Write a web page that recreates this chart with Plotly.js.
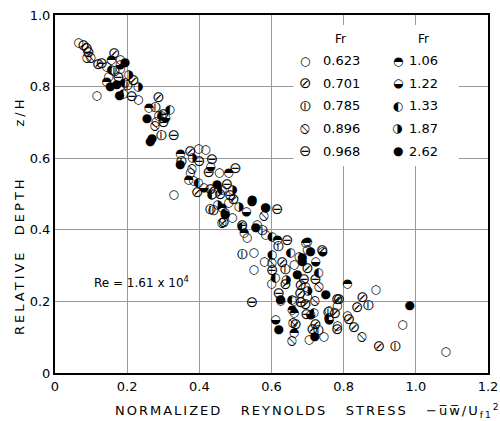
<!DOCTYPE html>
<html><head><meta charset="utf-8">
<script src="https://cdn.plot.ly/plotly-3.0.1.min.js"></script>
<style>html,body{margin:0;padding:0;background:#fff}#chart{width:500px;height:421px}</style>
</head><body><div id="chart"></div>
<script>
// Froude numbers (legend labels)
const frLabels = ['0.623','0.701','0.785','0.896','0.968','1.06','1.22','1.33','1.87','2.62'];
const frGlyphs = ['\u25CB','\u2298','\u29B6','\u29B8','\u2296','\u25D3','\u25D2','\u25D0','\u25D1','\u25CF'];

// Normalized Reynolds stress (x) and relative depth z/H (y) per Fr
const x0623 = [0.065,0.181,0.143,0.181,0.148,0.116,0.231,0.287,0.398,0.417,0.375,0.384,0.329,0.481,0.491,0.560,0.583,0.532,0.551,0.551,0.662,0.699,0.782,0.759,0.782,0.810,0.699,0.889,0.963,1.083,0.704,0.662,0.694,0.745,0.280,0.455,0.437,0.600,0.580];
const y0623 = [0.923,0.874,0.856,0.848,0.828,0.774,0.762,0.717,0.627,0.623,0.558,0.535,0.497,0.474,0.432,0.413,0.385,0.376,0.335,0.288,0.302,0.213,0.186,0.172,0.130,0.158,0.344,0.233,0.134,0.059,0.092,0.200,0.239,0.100,0.700,0.560,0.500,0.250,0.310];
const x0701 = [0.079,0.088,0.164,0.218,0.287,0.394,0.431,0.458,0.495,0.468,0.630,0.639,0.681,0.782,0.667,0.722,0.741,0.787,0.815,0.782,0.829,0.852,0.838,0.898,0.694,0.714,0.776,0.680,0.700,0.120,0.375];
const y0701 = [0.913,0.904,0.890,0.814,0.767,0.502,0.511,0.497,0.483,0.418,0.306,0.246,0.242,0.204,0.134,0.134,0.339,0.204,0.148,0.120,0.125,0.208,0.180,0.073,0.190,0.120,0.163,0.220,0.290,0.860,0.618];
const x0785 = [0.278,0.296,0.431,0.440,0.574,0.639,0.759,0.870,0.944,0.731,0.165,0.350,0.620,0.520,0.200];
const y0785 = [0.739,0.660,0.455,0.451,0.396,0.288,0.167,0.187,0.073,0.116,0.840,0.590,0.350,0.330,0.800];
const x0896 = [0.088,0.278,0.463,0.579,0.602,0.852,0.657,0.731,0.100,0.380,0.720,0.660];
const y0896 = [0.879,0.688,0.418,0.437,0.306,0.101,0.088,0.240,0.880,0.570,0.200,0.140];
const x0968 = [0.093,0.130,0.176,0.213,0.329,0.301,0.435,0.426,0.500,0.486,0.477,0.616,0.519,0.644,0.602,0.690,0.722,0.681,0.546,0.697,0.300,0.400,0.620];
const y0968 = [0.893,0.862,0.823,0.770,0.660,0.698,0.595,0.558,0.569,0.493,0.525,0.455,0.409,0.367,0.283,0.260,0.260,0.195,0.195,0.161,0.720,0.590,0.220];
const x106 = [0.156,0.143,0.347,0.481,0.463,0.546,0.524,0.616,0.699,0.583,0.657,0.662,0.810,0.694,0.625,0.662,0.260,0.370];
const y106 = [0.874,0.814,0.613,0.558,0.460,0.483,0.390,0.372,0.367,0.460,0.176,0.111,0.250,0.362,0.200,0.167,0.740,0.540];
const x122 = [0.306,0.412,0.431,0.741,0.708,0.759,0.611,0.722,0.180,0.530];
const y122 = [0.712,0.516,0.576,0.339,0.162,0.148,0.148,0.310,0.860,0.450];
const x133 = [0.157,0.194,0.319,0.296,0.398,0.463,0.435,0.472,0.519,0.602,0.653,0.611,0.731,0.657,0.759,0.718,0.602,0.190];
const y133 = [0.846,0.810,0.734,0.717,0.530,0.511,0.497,0.446,0.409,0.330,0.335,0.264,0.278,0.204,0.153,0.167,0.381,0.780];
const x187 = [0.204,0.491,0.509,0.676,0.380,0.640,0.700,0.230,0.450];
const y187 = [0.832,0.511,0.465,0.325,0.600,0.260,0.230,0.800,0.470];
const x262 = [0.194,0.153,0.171,0.179,0.255,0.269,0.264,0.347,0.449,0.472,0.583,0.556,0.546,0.708,0.685,0.671,0.750,0.625,0.983,0.685,0.720,0.620];
const y262 = [0.867,0.800,0.805,0.773,0.709,0.655,0.646,0.581,0.525,0.441,0.460,0.404,0.479,0.339,0.311,0.274,0.218,0.204,0.186,0.320,0.100,0.120];

const xs = [x0623,x0701,x0785,x0896,x0968,x106,x122,x133,x187,x262];
const ys = [y0623,y0701,y0785,y0896,y0968,y106,y122,y133,y187,y262];

const F = 'DejaVu Sans, Liberation Sans, sans-serif';
// math-operator circles are drawn smaller by the font, so enlarge them
const glyphSize = [12,15,15,15,15,12,12,12,12,12];

const traces = xs.map((xv,i)=>({
  type:'scatter', mode:'text', x:xv, y:ys[i],
  text: xv.map(()=>frGlyphs[i]), textposition:'middle center',
  textfont:{family:F, size:glyphSize[i], color:'#000'},
  hoverinfo:'skip', showlegend:false, cliponaxis:false, name:'Fr '+frLabels[i]
}));

const sp = n => '\u00a0'.repeat(n);

// legend built as annotations
const ann = [];
const colX = [[0.694,0.736],[0.950,0.975]];
const rowY = [0.872,0.810,0.746,0.684,0.620];
ann.push({xref:'x',yref:'y',x:0.792,y:0.933,text:'Fr',showarrow:false,font:{family:F,size:12,color:'#000'}});
ann.push({xref:'x',yref:'y',x:1.022,y:0.933,text:'Fr',showarrow:false,font:{family:F,size:12,color:'#000'}});
frLabels.forEach((lab,i)=>{
  const c = i<5?0:1, r = i%5;
  ann.push({xref:'x',yref:'y',x:colX[c][0],y:rowY[r],text:frGlyphs[i],showarrow:false,font:{family:F,size:glyphSize[i],color:'#000'}});
  ann.push({xref:'x',yref:'y',x:colX[c][1],y:rowY[r],xanchor:'left',text:lab,showarrow:false,font:{family:F,size:13,color:'#000'}});
});
ann.push({xref:'x',yref:'y',x:0.239,y:0.255,text:'Re = 1.61 x 10<sup>4</sup>',showarrow:false,font:{family:F,size:12,color:'#000'}});
// y axis title
ann.push({xref:'paper',yref:'paper',x:-0.082,y:0.44,xanchor:'center',yanchor:'middle',textangle:-90,
  text:'<span style="letter-spacing:3px">RELATIVE'+sp(2)+'DEPTH'+sp(7)+'z/H</span>',showarrow:false,font:{family:F,size:13,color:'#000'}});
// x axis title
ann.push({xref:'paper',yref:'paper',x:0.585,y:-0.105,xanchor:'center',yanchor:'middle',
  text:'<span style="letter-spacing:2px">NORMALIZED'+sp(3)+'REYNOLDS'+sp(3)+'STRESS'+sp(3)+'\u2212u\u0305w\u0305/U<sub>f1</sub><sup>2</sup></span>',showarrow:false,font:{family:F,size:13,color:'#000'}});

const layout = {
  width:500, height:421,
  margin:{l:55,r:12,t:15,b:48},
  paper_bgcolor:'#fff', plot_bgcolor:'#fff',
  showlegend:false,
  xaxis:{range:[0,1.2], tickvals:[0,0.2,0.4,0.6,0.8,1.0,1.2], ticktext:['0','0.2','0.4','0.6','0.8','1.0','1.2'],
    showgrid:true, gridcolor:'#9a9a9a', gridwidth:1, zeroline:false,
    showline:true, linecolor:'#000', linewidth:2, mirror:true, ticks:'',
    tickfont:{family:F,size:13,color:'#000'}},
  yaxis:{range:[0,1.0], tickvals:[0,0.2,0.4,0.6,0.8,1.0], ticktext:['0','0.2','0.4','0.6','0.8','1.0'],
    showgrid:true, gridcolor:'#9a9a9a', gridwidth:1, zeroline:false,
    showline:true, linecolor:'#000', linewidth:2, mirror:true, ticks:'',
    tickfont:{family:F,size:13,color:'#000'}},
  shapes:[{type:'rect',xref:'x',yref:'y',x0:0.661,x1:1.119,y0:0.578,y1:0.972,fillcolor:'#fff',line:{width:0},layer:'between'}],
  annotations:ann
};
Plotly.newPlot('chart', traces, layout, {staticPlot:true, displayModeBar:false});
</script></body></html>
